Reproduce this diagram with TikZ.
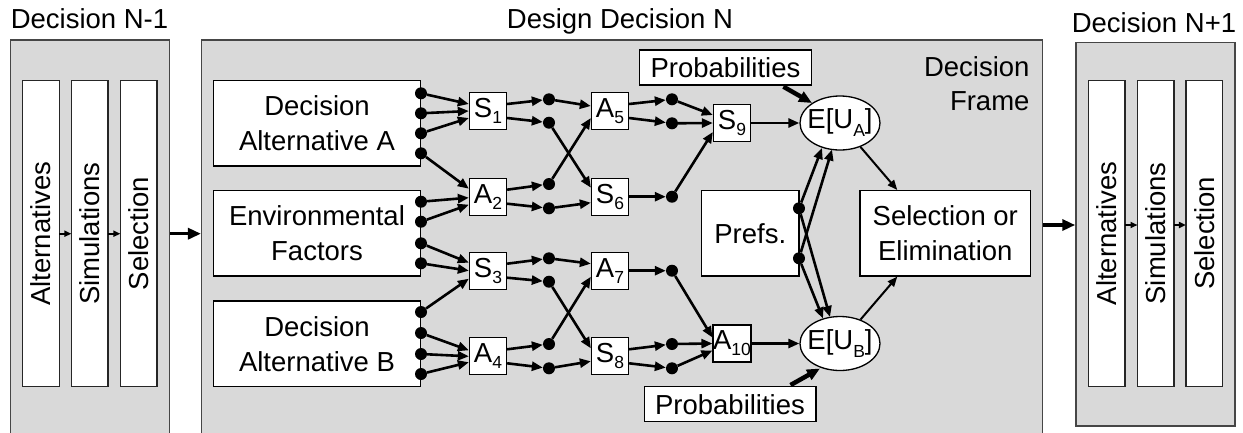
\documentclass[tikz,border=0pt]{standalone}
\usepackage{fontspec}
\setmainfont{Liberation Sans}
\usetikzlibrary{arrows.meta,calc,shapes.geometric}

\definecolor{panelfill}{RGB}{217,217,217}
\definecolor{panelline}{RGB}{70,70,70}

% lowered, smaller index used in the node labels
\newcommand{\lowidx}[1]{\raisebox{-6pt}{\fontsize{17.5}{18}\selectfont #1}}
\newcommand{\lowidxb}[1]{\raisebox{-8pt}{\fontsize{17.5}{18}\selectfont #1}}

\tikzset{
  panel/.style={draw=panelline, fill=panelfill, line width=1.5pt, inner sep=0},
  bar/.style={draw=black!85, fill=white, line width=1.3pt, inner sep=0,
              minimum width=306, minimum height=36.6, rotate=90},
  bigbox/.style={draw=black, fill=white, line width=1.3pt, inner sep=0, align=center},
  smallbox/.style={draw=black, fill=white, line width=1.3pt, inner sep=0,
                   minimum width=37, minimum height=37},
  util/.style={draw=black, fill=white, line width=1.3pt, ellipse, inner sep=0,
               minimum width=80, minimum height=54},
  dot/.style={circle, fill=black, inner sep=0, minimum size=12},
  arr/.style={line width=2.6pt, -{Triangle[length=11pt,width=9pt]}},
  thinarr/.style={line width=2pt, -{Triangle[length=10pt,width=8pt]}},
  probarr/.style={line width=4.5pt, -{Triangle[length=13pt,width=11pt]}},
  bigarr/.style={line width=3.5pt, -{Triangle[length=13pt,width=11pt]}},
  smallarr/.style={line width=2pt, -{Triangle[length=7pt,width=6pt]}},
}

\begin{document}
\begin{tikzpicture}[x=1pt, y=-1pt, font=\fontsize{27.5}{35}\selectfont]
\useasboundingbox (0,0) rectangle (1243,432);
\clip (0,0) rectangle (1243,432);
\fill[white] (0,0) rectangle (1243,432);

% ---------- panels ----------
\node[panel, minimum width=158.6, minimum height=420] (lp) at (90,250) {};
\node[panel, minimum width=841, minimum height=420] (cp) at (622.2,250) {};
\node[panel, minimum width=159, minimum height=383.3] (rp) at (1155.5,234.3) {};

\node[anchor=base] (tl) at (89.5,28.3) {Decision N-1};
\node[anchor=base] (tc) at (620,28) {Design Decision N};
\node[anchor=base] (tr) at (1154,32.3) {Decision N+1};

% ---------- previous decision ----------
\node[bar] (lb1) at (41,233.7) {Alternatives};
\node[bar] (lb2) at (89.7,233.7) {Simulations};
\node[bar] (lb3) at (138.7,233.7) {Selection};
\draw[smallarr] ($(lb1.center)+(18.3,0)$) -- ($(lb2.center)+(-18.3,0)$);
\draw[smallarr] ($(lb2.center)+(18.3,0)$) -- ($(lb3.center)+(-18.3,0)$);

% ---------- next decision ----------
\node[bar] (rb1) at (1106.7,233.3) {Alternatives};
\node[bar] (rb2) at (1155.8,233.3) {Simulations};
\node[bar] (rb3) at (1204.2,233.3) {Selection};
\coordinate (rlevel) at (0,225);
\draw[smallarr] ($(rb1.center |- rlevel)+(18.3,0)$) -- ($(rb2.center |- rlevel)+(-18.3,0)$);
\draw[smallarr] ($(rb2.center |- rlevel)+(18.3,0)$) -- ($(rb3.center |- rlevel)+(-18.3,0)$);

% links between decisions
\draw[bigarr] (lp.east |- lb1.center) -- (cp.west |- lb1.center);
\draw[bigarr] (cp.east |- rlevel) -- (rp.west |- rlevel);

% ---------- decision frame ----------
\node[anchor=base east] (fr1) at (1033,76.7) {Decision};
\node[anchor=base east] (fr2) at (1033,110) {Frame};

\node[bigbox, minimum width=207.4, minimum height=85.3] (altA) at (317,123.3) {Decision\\Alternative A};
\node[bigbox, minimum width=207.4, minimum height=85.3] (env) at (317,233.3) {Environmental\\Factors};
\node[bigbox, minimum width=207.4, minimum height=85.7] (altB) at (317,343.8) {Decision\\Alternative B};

\node[bigbox, minimum width=97.3, minimum height=85.3] (prefs) at (750.3,233.3) {Prefs.};
\node[bigbox, minimum width=170.7, minimum height=85.3] (sel) at (945.3,233.3) {Selection or\\Elimination};
\node[bigbox, minimum width=172.5, minimum height=35] (probT) at (725.5,67.5) {Probabilities};
\node[bigbox, minimum width=171.7, minimum height=35] (probB) at (730,404.2) {Probabilities};

% small chance / alternative boxes
\node[smallbox] (S1) at (488,111) {S\lowidx{1}};
\node[smallbox] (A2) at (488,196.7) {A\lowidx{2}};
\node[smallbox] (S3) at (488,270.7) {S\lowidx{3}};
\node[smallbox] (A4) at (488,356.3) {A\lowidx{4}};
\node[smallbox] (A5) at (610,111) {A\lowidx{5}};
\node[smallbox] (S6) at (610,196.7) {S\lowidx{6}};
\node[smallbox] (A7) at (610,270.7) {A\lowidx{7}};
\node[smallbox] (S8) at (610,356.3) {S\lowidx{8}};
\node[smallbox] (S9) at (732,123) {S\lowidx{9}};
\node[smallbox] (A10) at (732,343.5) {A\lowidx{10}};

% expected utilities
\node[util] (EA) at (840,123) {};
\node (EAt) at (EA) {E[U\lowidxb{A}]};
\node[util] (EB) at (840,343.5) {};
\node (EBt) at (EB) {E[U\lowidxb{B}]};

% ---------- outcome dots ----------
\foreach \n/\y in {a1/93.3, a2/113.3, a3/133.3, a4/153.3,
                   e1/201.7, e2/221.7, e3/243.3, e4/263.3,
                   b1/312, b2/333, b3/354, b4/374}
  \node[dot] (\n) at (421,\y) {};
\foreach \n/\y in {d21/99.3, d22/122.7, d23/184, d24/208.3,
                   d25/258.3, d26/281.7, d27/344, d28/368.3}
  \node[dot] (\n) at (549,\y) {};
\foreach \n/\y in {d41/99.3, d42/123.3, d43/196.7, d44/270.7, d45/344, d46/368.3}
  \node[dot] (\n) at (672,\y) {};
\node[dot] (p1) at (799,208.3) {};
\node[dot] (p2) at (799,258.3) {};

% inputs to the first column
\draw[arr] (a1) -- ($(S1.west)+(0,-7)$);
\draw[arr] (a2) -- (S1.west);
\draw[arr] (a3) -- ($(S1.west)+(0,7)$);
\draw[arr] (a4) -- ($(A2.west)+(0,-8)$);
\draw[arr] (e1) -- ($(A2.west)+(0,1)$);
\draw[arr] (e2) -- ($(A2.west)+(0,8)$);
\draw[arr] (e3) -- ($(S3.west)+(0,-8)$);
\draw[arr] (e4) -- (S3.west);
\draw[arr] (b1) -- ($(S3.west)+(0,8)$);
\draw[arr] (b2) -- ($(A4.west)+(0,-6)$);
\draw[arr] (b3) -- (A4.west);
\draw[arr] (b4) -- ($(A4.west)+(0,6)$);

% first column outputs
\draw[arr] ($(S1.east)+(0,-7)$) -- (d21);
\draw[arr] ($(S1.east)+(0,7)$) -- (d22);
\draw[arr] ($(A2.east)+(0,-7)$) -- (d23);
\draw[arr] ($(A2.east)+(0,7)$) -- (d24);
\draw[arr] ($(S3.east)+(0,-7)$) -- (d25);
\draw[arr] ($(S3.east)+(0,7)$) -- (d26);
\draw[arr] ($(A4.east)+(0,-7)$) -- (d27);
\draw[arr] ($(A4.east)+(0,7)$) -- (d28);

% second column inputs (crossing)
\draw[arr] (d21) -- ($(A5.west)+(0,-5)$);
\draw[arr] (d23) -- ($(A5.west)+(0,7)$);
\draw[arr] (d22) -- ($(S6.west)+(0,-9)$);
\draw[arr] (d24) -- ($(S6.west)+(0,6)$);
\draw[arr] (d25) -- ($(A7.west)+(0,-7)$);
\draw[arr] (d27) -- ($(A7.west)+(0,6)$);
\draw[arr] (d26) -- ($(S8.west)+(0,-8)$);
\draw[arr] (d28) -- ($(S8.west)+(0,5)$);

% second column outputs
\draw[arr] ($(A5.east)+(0,-7)$) -- (d41);
\draw[arr] ($(A5.east)+(0,7)$) -- (d42);
\draw[arr] (S6.east) -- (d43);
\draw[arr] (A7.east) -- (d44);
\draw[arr] ($(S8.east)+(0,-7)$) -- (d45);
\draw[arr] ($(S8.east)+(0,7)$) -- (d46);

% third column inputs
\draw[arr] (d41) -- ($(S9.west)+(0,-8)$);
\draw[arr] (d42) -- (S9.west);
\draw[arr] (d43) -- ($(S9.west)+(0,9)$);
\draw[arr] (d44) -- ($(A10.west)+(0,-6)$);
\draw[arr] (d45) -- (A10.west);
\draw[arr] (d46) -- ($(A10.west)+(0,7)$);

% to the expected utilities
\draw[arr] (S9) -- (EA);
\draw[arr] (A10) -- (EB);
\draw[probarr] ($(probT.south east)+(-29,1)$) -- ($(EA.center)+(-28,-20)$);
\draw[probarr] ($(probB.north east)+(-26,-1)$) -- ($(EB.center)+(-20,25)$);

% preferences
\draw[arr] (p1) -- ($(EA.center)+(-18,25)$);
\draw[arr] (p1) -- ($(EB.center)+(-10,-26.5)$);
\draw[arr] (p2) -- ($(EA.center)+(-8,26.5)$);
\draw[arr] (p2) -- ($(EB.center)+(-17,-25)$);

% selection
\draw[thinarr] (EA) -- ($(sel.north)+(-48,0)$);
\draw[thinarr] (EB) -- ($(sel.south)+(-48,0)$);
\end{tikzpicture}
\end{document}
